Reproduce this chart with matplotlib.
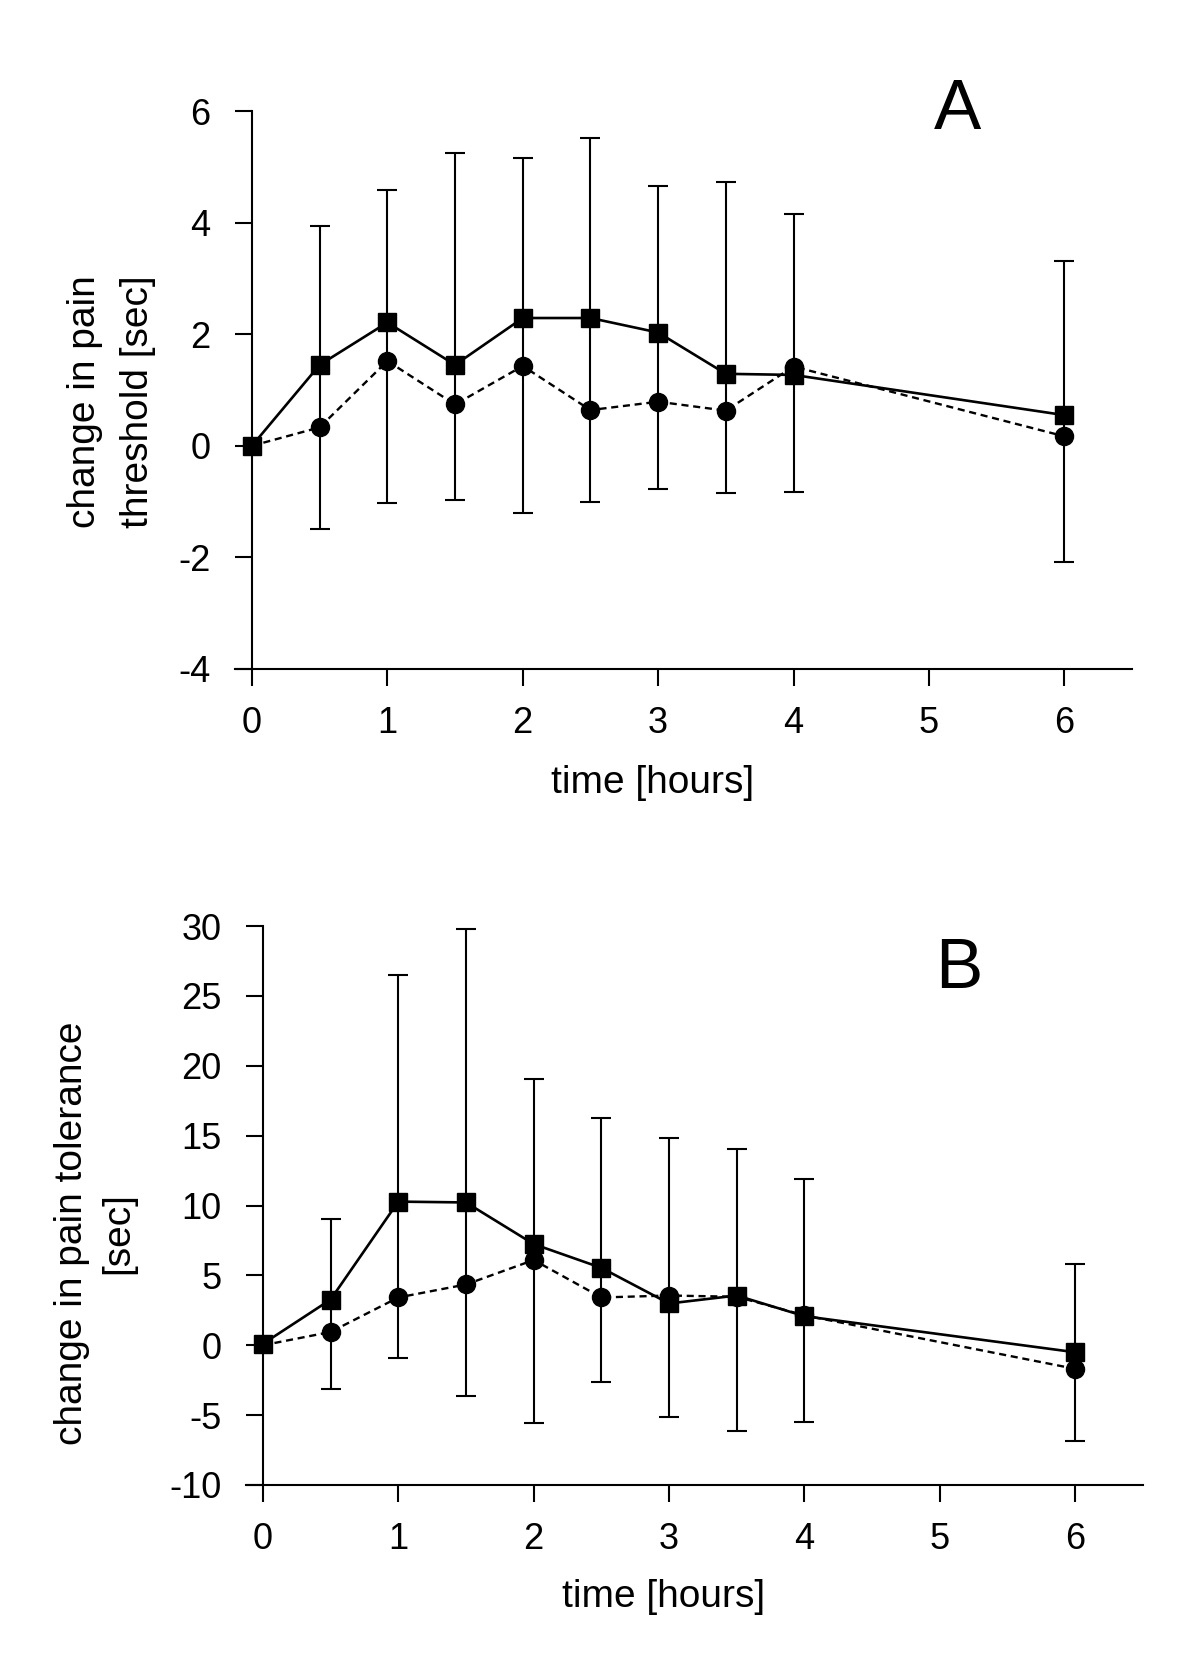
import numpy as np
import matplotlib
matplotlib.use("Agg")
import matplotlib.pyplot as plt

plt.rcParams['font.family'] = ['Liberation Sans', 'DejaVu Sans']
plt.rcParams['axes.unicode_minus'] = False

# time points [hours]
hours = [0, 0.5, 1, 1.5, 2, 2.5, 3, 3.5, 4, 6]

# panel A: pain threshold (squares solid, circles dashed)
thr_sq = [0, 1.45, 2.21, 1.45, 2.29, 2.29, 2.03, 1.29, 1.27, 0.55]
thr_ci = [0, 0.33, 1.52, 0.74, 1.43, 0.64, 0.79, 0.63, 1.42, 0.17]
thr_hi = [0, 3.94, 4.58, 5.25, 5.16, 5.52, 4.65, 4.72, 4.16, 3.32]
thr_lo = [0, -1.49, -1.03, -0.98, -1.20, -1.01, -0.77, -0.85, -0.83, -2.08]

# panel B: pain tolerance
tol_sq = [0.1, 3.27, 10.28, 10.22, 7.24, 5.54, 2.99, 3.56, 2.08, -0.50]
tol_ci = [0, 0.95, 3.42, 4.35, 6.10, 3.42, 3.56, 3.47, 2.14, -1.69]
tol_hi = [0.1, 9.03, 26.5, 29.77, 19.06, 16.23, 14.81, 14.02, 11.89, 5.82]
tol_lo = [0, -3.11, -0.92, -3.62, -5.57, -2.65, -5.10, -6.15, -5.48, -6.85]

fig = plt.figure(figsize=(11.98, 16.62), dpi=100)
axA = fig.add_axes([0.1962, 0.5975, 0.7487, 0.3357])
axB = fig.add_axes([0.2053, 0.1065, 0.7488, 0.3363])

panels = [
    (axA, thr_sq, thr_ci, thr_hi, thr_lo, (-4, 6), [-4, -2, 0, 2, 4, 6],
     "change in pain\nthreshold [sec]", (-0.138, 0.4785), 1.62, "A", (0.806, 1.0), -0.205),
    (axB, tol_sq, tol_ci, tol_hi, tol_lo, (-10, 30), list(range(-10, 31, 5)),
     "change in pain tolerance\n[sec]", (-0.168, 0.451), 1.38, "B", (0.795, 0.921), -0.2),
]

for ax, sq, ci, hi, lo, ylim, yticks, ylab, ylab_pos, lsp, letter, let_pos, xlab_y in panels:
    x = np.array(hours)
    sq = np.array(sq)
    ci = np.array(ci)
    # vertical bars span from lower end (circle series) to upper end (square series)
    ax.errorbar(x[1:], sq[1:], yerr=[sq[1:] - np.array(lo[1:]), np.array(hi[1:]) - sq[1:]],
                fmt='none', ecolor='black', elinewidth=1.5, capsize=7, capthick=1.5, zorder=2)
    ax.plot(x, sq, '-', color='black', lw=1.9, marker='s', markersize=13, zorder=3)
    ax.plot(x, ci, '--', color='black', lw=1.7, dashes=(3, 2), marker='o', markersize=13,
            markevery=list(range(1, len(x))), zorder=4)

    ax.set_xlim(-0.125, 6.5)
    ax.set_ylim(*ylim)
    ax.set_xticks([0, 1, 2, 3, 4, 5, 6])
    ax.set_yticks(yticks)
    ax.spines['top'].set_visible(False)
    ax.spines['right'].set_visible(False)
    ax.spines['left'].set_position(('data', 0))
    for s in ('left', 'bottom'):
        ax.spines[s].set_linewidth(1.5)
    ax.tick_params(axis='both', direction='out', length=12, width=1.5, labelsize=26)
    ax.tick_params(axis='x', pad=15)
    ax.tick_params(axis='y', pad=18)

    ax.set_xlabel("time [hours]", fontsize=28, va='center')
    ax.xaxis.set_label_coords(0.466, xlab_y)
    ax.set_ylabel(ylab, fontsize=28, va='center', linespacing=lsp)
    ax.yaxis.set_label_coords(*ylab_pos)

    ax.text(let_pos[0], let_pos[1], letter, transform=ax.transAxes, fontsize=51,
            ha='center', va='center')

fig.savefig("out.png", dpi=100)
